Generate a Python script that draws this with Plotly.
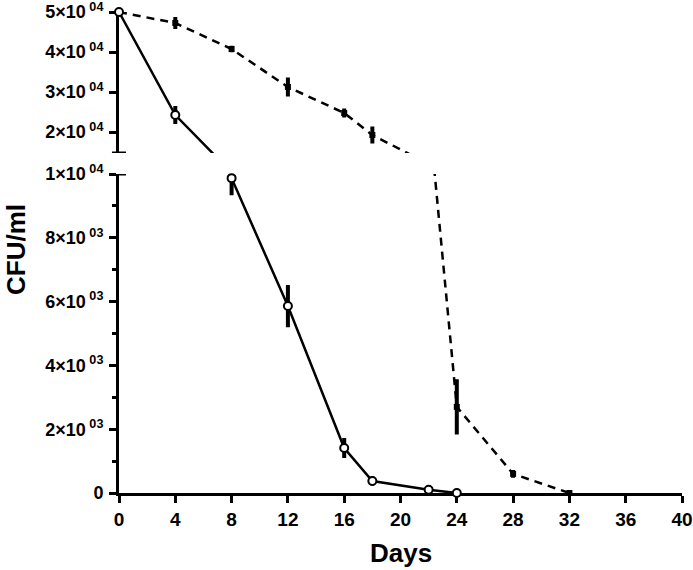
import plotly.graph_objects as go

# ---- data ----
days_a = [0, 4, 8, 12, 16, 18, 22, 24]
cfu_a = [50000, 24250, 9870, 5860, 1410, 376, 100, 0]
err_a = [0, 1750, 470, 600, 250, 80, 30, 0]

days_b = [0, 4, 8, 12, 16, 18, 22, 24, 28, 32]
cfu_b = [50000, 47250, 40750, 31250, 24750, 19250, 12000, 2700, 600, 0]
err_b = [0, 1000, 300, 1900, 600, 1600, 0, 800, 60, 0]

x_ticks = [0, 4, 8, 12, 16, 20, 24, 28, 32, 36, 40]
top_ticks = [20000, 30000, 40000, 50000]
bottom_ticks = [0, 2000, 4000, 6000, 8000, 10000]
bottom_minor = [1000, 3000, 5000, 7000, 9000]

top_range = [14750, 50000]
bottom_range = [0, 10000]


def sci_label(v):
    if v == 0:
        return "0"
    exp = len(str(int(v))) - 1
    mant = int(v // (10 ** exp))
    return f"{mant}×10<sup> {exp:02d}</sup>"


FONT = "Liberation Sans"
fig = go.Figure()


def add_series(days, cfu, err, dash, marker, axes):
    for xa, ya, rng in axes:
        fig.add_trace(go.Scatter(
            x=days, y=cfu, mode="lines", xaxis=xa, yaxis=ya,
            line=dict(color="black", width=2.5, dash=dash),
            showlegend=False, hoverinfo="skip"))
        idx = [i for i, v in enumerate(cfu) if rng[0] <= v <= rng[1]]
        fig.add_trace(go.Scatter(
            x=[days[i] for i in idx], y=[cfu[i] for i in idx],
            mode="markers", xaxis=xa, yaxis=ya, cliponaxis=False,
            marker=marker,
            error_y=dict(type="data", array=[err[i] for i in idx],
                         color="black", thickness=4, width=2),
            showlegend=False))


axes = [("x", "y", bottom_range), ("x2", "y2", top_range)]
add_series(days_b, cfu_b, err_b, "8px,6px",
           dict(symbol="square", size=6, color="black"), axes)
add_series(days_a, cfu_a, err_a, "solid",
           dict(symbol="circle", size=8, color="white",
                line=dict(color="black", width=2)), axes)

H_TOP = (493 - 153) / 481
H_BOT = (493 - 174) / 481

tickfont = dict(family=FONT, size=18, color="black", weight="bold")

fig.update_layout(
    width=693, height=570,
    margin=dict(l=119, r=11, t=12, b=77, autoexpand=False),
    paper_bgcolor="white", plot_bgcolor="white",
    showlegend=False,
    xaxis=dict(range=[0, 40], domain=[0, 1], anchor="y", automargin=False,
               tickmode="array", tickvals=x_ticks,
               ticks="outside", ticklen=7, tickwidth=2.5, tickcolor="black",
               showline=True, linewidth=3, linecolor="black",
               showgrid=False, zeroline=False, layer="below traces",
               ticklabeloverflow="allow",
               tickfont=dict(family=FONT, size=19, color="black", weight="bold")),
    xaxis2=dict(range=[0, 40], domain=[0, 1], anchor="y2", matches="x",
                visible=False, showgrid=False, zeroline=False, automargin=False),
    yaxis=dict(range=bottom_range, domain=[0, H_BOT], anchor="x", automargin=False,
               tickmode="array", tickvals=bottom_ticks,
               ticktext=[sci_label(v) for v in bottom_ticks],
               ticks="outside", ticklen=7, tickwidth=2.5, tickcolor="black",
               minor=dict(tickmode="array", tickvals=bottom_minor, ticks="outside",
                          ticklen=4, tickwidth=2.5, tickcolor="black"),
               showline=True, linewidth=3, linecolor="black",
               showgrid=False, zeroline=False, layer="below traces",
               ticklabeloverflow="allow",
               tickfont=tickfont, ticklabelstandoff=2),
    yaxis2=dict(range=top_range, domain=[H_TOP, 1], anchor="x2", automargin=False,
                tickmode="array", tickvals=top_ticks,
                ticktext=[sci_label(v) for v in top_ticks],
                ticks="outside", ticklen=7, tickwidth=2.5, tickcolor="black",
                showline=True, linewidth=3, linecolor="black",
                showgrid=False, zeroline=False, layer="below traces",
                ticklabeloverflow="allow",
                tickfont=tickfont, ticklabelstandoff=2),
)

for yref, yv in [("y2", top_range[0]), ("y", bottom_range[1])]:
    fig.add_shape(type="line", xref="x domain", yref=yref,
                  x0=-0.0125, x1=0.0125, y0=yv, y1=yv,
                  line=dict(color="black", width=3))

fig.add_annotation(text="Days", xref="paper", yref="paper", x=0.5,
                   y=(493 - 553) / 481, yanchor="middle", showarrow=False,
                   font=dict(family=FONT, size=26, color="black", weight="bold"))
fig.add_annotation(text="CFU/ml", xref="paper", yref="paper",
                   x=(16 - 119) / 563, xanchor="center",
                   y=(493 - 250) / 481, yanchor="middle", textangle=-90,
                   showarrow=False,
                   font=dict(family=FONT, size=26, color="black", weight="bold"))

fig.write_html("out.html", config={"displayModeBar": False},
               post_script="document.body.style.margin='0';document.body.style.overflow='hidden';")
